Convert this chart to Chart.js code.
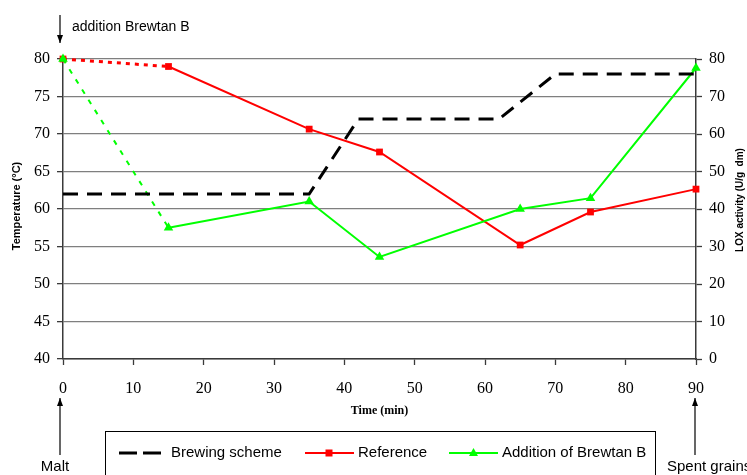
<!DOCTYPE html>
<html><head><meta charset="utf-8">
<script src="https://cdn.jsdelivr.net/npm/chart.js@4"></script>
<style>html,body{margin:0;padding:0;background:#fff;overflow:hidden}</style>
</head><body>
<canvas id="c" width="747" height="475" style="width:747px;height:475px;display:block"></canvas>
<script>
// ---- data ----
const timeMin      = [0, 15, 35, 45, 65, 75, 90];
const referenceLOX = [80, 78, 61.3, 55.2, 30.4, 39.2, 45.3];
const brewtanLOX   = [80, 35, 42, 27.2, 40, 42.9, 77.6];
const schemeTime   = [0, 35, 42, 62, 70, 90];
const schemeTemp   = [62, 62, 72, 72, 78, 78];
const xTicks   = [0, 10, 20, 30, 40, 50, 60, 70, 80, 90];
const tempTicks = [40, 45, 50, 55, 60, 65, 70, 75, 80];
const loxTicks  = [0, 10, 20, 30, 40, 50, 60, 70, 80];
const labels = ['Brewing scheme', 'Reference', 'Addition of Brewtan B'];

const pts = (xs, ys) => xs.map((x, i) => ({x, y: ys[i]}));
const firstSeg = (dash, w) => ({
  borderDash: ctx => ctx.p0DataIndex === 0 ? dash : undefined,
  borderWidth: ctx => ctx.p0DataIndex === 0 ? w : undefined
});

const AXIS = '#3a3a3a', GRID = '#7f7f7f';

const extras = {
  id: 'extras',
  afterDraw(chart) {
    const ctx = chart.ctx, ca = chart.chartArea;
    ctx.save();
    ctx.fillStyle = '#000'; ctx.strokeStyle = '#000';
    // axis titles
    ctx.font = 'bold 11px "Liberation Sans", Arial, sans-serif';
    ctx.textAlign = 'center'; ctx.textBaseline = 'middle';
    ctx.save(); ctx.translate(17, 206); ctx.rotate(-Math.PI/2);
    ctx.fillText('Temperature (°C)', 0, 0); ctx.restore();
    ctx.font = 'bold 10px "Liberation Sans", Arial, sans-serif';
    ctx.save(); ctx.translate(740, 200); ctx.rotate(-Math.PI/2);
    ctx.fillText('LOX activity (U/g  dm)', 0, 0); ctx.restore();
    ctx.font = 'bold 12px "Liberation Serif", "Times New Roman", serif';
    ctx.fillText('Time (min)', (ca.left + ca.right)/2, 411);
    // annotations with arrows
    const arrow = (x, y1, y2) => {
      ctx.lineWidth = 1.2; ctx.beginPath(); ctx.moveTo(x, y1); ctx.lineTo(x, y2); ctx.stroke();
      const d = y2 > y1 ? 1 : -1;
      ctx.beginPath(); ctx.moveTo(x, y2); ctx.lineTo(x - 3, y2 - d*8); ctx.lineTo(x + 3, y2 - d*8); ctx.closePath(); ctx.fill();
    };
    arrow(60, 15, 43);
    arrow(60, 455, 398);
    arrow(695, 455, 398);
    ctx.font = '14px "Liberation Sans", Arial, sans-serif';
    ctx.textAlign = 'left';
    ctx.fillText('addition Brewtan B', 72, 27);
    ctx.font = '15px "Liberation Sans", Arial, sans-serif';
    ctx.textAlign = 'center';
    ctx.fillText('Malt', 55, 467);
    ctx.textAlign = 'left';
    ctx.fillText('Spent grains', 667, 467);
    // legend box
    ctx.lineWidth = 1; ctx.strokeStyle = '#000';
    ctx.strokeRect(105.5, 431.5, 550, 60);
    const ds = chart.data.datasets;
    const y = 453;
    // brewing sample
    ctx.lineWidth = 3; ctx.strokeStyle = ds[0].borderColor; ctx.setLineDash([18, 6]);
    ctx.beginPath(); ctx.moveTo(119, y); ctx.lineTo(161, y); ctx.stroke(); ctx.setLineDash([]);
    // reference sample
    ctx.lineWidth = 2; ctx.strokeStyle = ds[1].borderColor;
    ctx.beginPath(); ctx.moveTo(305, y); ctx.lineTo(354, y); ctx.stroke();
    ctx.fillStyle = ds[1].borderColor; ctx.fillRect(325.5, y - 3.5, 7, 7);
    // brewtan sample
    ctx.strokeStyle = ds[2].borderColor;
    ctx.beginPath(); ctx.moveTo(449, y); ctx.lineTo(498, y); ctx.stroke();
    ctx.fillStyle = ds[2].borderColor;
    ctx.beginPath(); ctx.moveTo(473.5, y - 5); ctx.lineTo(478, y + 3); ctx.lineTo(469, y + 3); ctx.closePath(); ctx.fill();
    ctx.fillStyle = '#000';
    ctx.font = '15px "Liberation Sans", Arial, sans-serif';
    ctx.textAlign = 'left'; ctx.textBaseline = 'middle';
    ctx.fillText(ds[0].label, 171, y);
    ctx.fillText(ds[1].label, 358, y);
    ctx.fillText(ds[2].label, 502, y);
    ctx.restore();
  }
};

new Chart(document.getElementById('c'), {
  type: 'line',
  data: {
    datasets: [
      { label: labels[0], data: pts(schemeTime, schemeTemp), yAxisID: 'y', order: 0,
        borderColor: '#000', borderWidth: 3, borderDash: [15, 9], pointRadius: 0, tension: 0 },
      { label: labels[1], data: pts(timeMin, referenceLOX), yAxisID: 'y2', order: 2,
        borderColor: '#ff0000', backgroundColor: '#ff0000', borderWidth: 2,
        pointStyle: 'rect', pointRadius: 4.8, pointBorderWidth: 0, tension: 0,
        segment: firstSeg([4, 5], 3) },
      { label: labels[2], data: pts(timeMin, brewtanLOX), yAxisID: 'y2', order: 1,
        borderColor: '#00ff00', backgroundColor: '#00ff00', borderWidth: 2,
        pointStyle: 'triangle', pointRadius: 5.5, pointBorderWidth: 0, tension: 0,
        segment: firstSeg([5, 7], 2) }
    ]
  },
  options: {
    responsive: false, animation: false, devicePixelRatio: 1,
    layout: { padding: { top: 59, left: 0, right: 0, bottom: 0 } },
    clip: false,
    plugins: { legend: { display: false }, tooltip: { enabled: false } },
    scales: {
      x: {
        type: 'linear', min: 0, max: 90,
        afterBuildTicks: s => { s.ticks = xTicks.map(v => ({value: v})); },
        afterFit: s => { s.height = 116; },
        grid: { drawOnChartArea: false, drawTicks: true, tickLength: 6, tickColor: AXIS, tickWidth: 1.3 },
        border: { display: true, color: AXIS, width: 1.5 },
        ticks: { padding: 14, color: '#000', font: { family: '"Liberation Serif", "Times New Roman", serif', size: 16 } }
      },
      y: {
        position: 'left', min: 40, max: 80,
        afterBuildTicks: s => { s.ticks = tempTicks.map(v => ({value: v})); },
        afterFit: s => { s.width = 63; },
        grid: { color: GRID, lineWidth: 1.3, drawTicks: true, tickLength: 6, tickColor: AXIS, tickWidth: 1.3 },
        border: { display: true, color: AXIS, width: 1.5 },
        ticks: { padding: 7, color: '#000', font: { family: '"Liberation Serif", "Times New Roman", serif', size: 16 } }
      },
      y2: {
        position: 'right', min: 0, max: 80,
        afterBuildTicks: s => { s.ticks = loxTicks.map(v => ({value: v})); },
        afterFit: s => { s.width = 51; },
        grid: { drawOnChartArea: false, drawTicks: true, tickLength: 6, tickColor: AXIS, tickWidth: 1.3 },
        border: { display: true, color: AXIS, width: 1.5 },
        ticks: { padding: 7, color: '#000', font: { family: '"Liberation Serif", "Times New Roman", serif', size: 16 } }
      }
    }
  },
  plugins: [extras]
});
</script>
</body></html>
